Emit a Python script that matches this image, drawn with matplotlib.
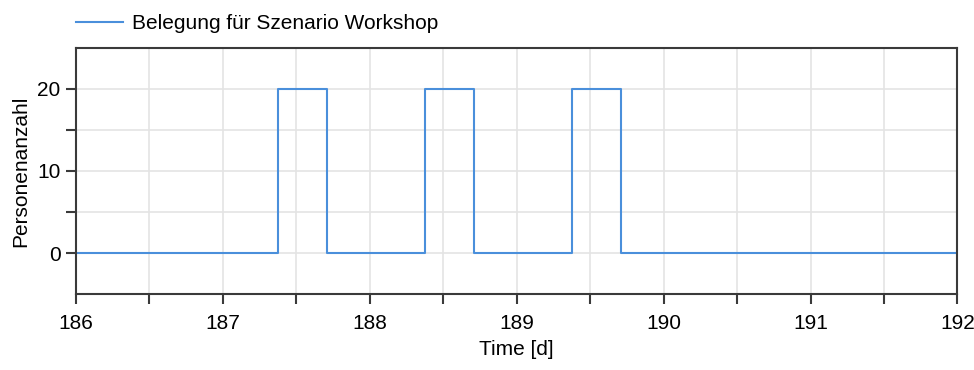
import matplotlib.pyplot as plt
from matplotlib.ticker import MultipleLocator

plt.rcParams['font.family'] = ['Liberation Sans', 'DejaVu Sans']

# Belegung (step data), time in days
time_d = [186, 187.375, 187.7083, 188.375, 188.7083, 189.375, 189.7083, 192]
persons = [0, 20, 0, 20, 0, 20, 0, 0]
label = "Belegung für Szenario Workshop"

fig = plt.figure(figsize=(9.74, 3.70), dpi=100)
ax = fig.add_axes([0.078, 0.205, 0.905, 0.666])

ax.plot(time_d, persons, drawstyle='steps-post', color='#4a8fdb', lw=1.5, label=label)

ax.set_xlim(186, 192)
ax.set_ylim(-5, 25)
ax.xaxis.set_major_locator(MultipleLocator(1))
ax.xaxis.set_minor_locator(MultipleLocator(0.5))
ax.set_yticks([0, 10, 20])
ax.set_yticks([5, 15], minor=True)

ax.grid(True, which='both', color='#e4e4e4', lw=1.2)
ax.set_axisbelow(True)
for s in ax.spines.values():
    s.set_color('#3a3a3a')
    s.set_linewidth(1.5)

ax.tick_params(which='both', direction='out', length=7, width=1.5, color='#3a3a3a',
               labelsize=15, pad=4)
ax.tick_params(axis='x', pad=7)

ax.set_xlabel("Time [d]", fontsize=15, labelpad=5)
ax.set_ylabel("Personenanzahl", fontsize=15, labelpad=5)

ax.legend(loc='lower left', bbox_to_anchor=(0.0, 1.06), frameon=False, fontsize=15,
          handlelength=2.25, handletextpad=0.45, borderaxespad=0, borderpad=0)

fig.savefig("out.png", dpi=100)
